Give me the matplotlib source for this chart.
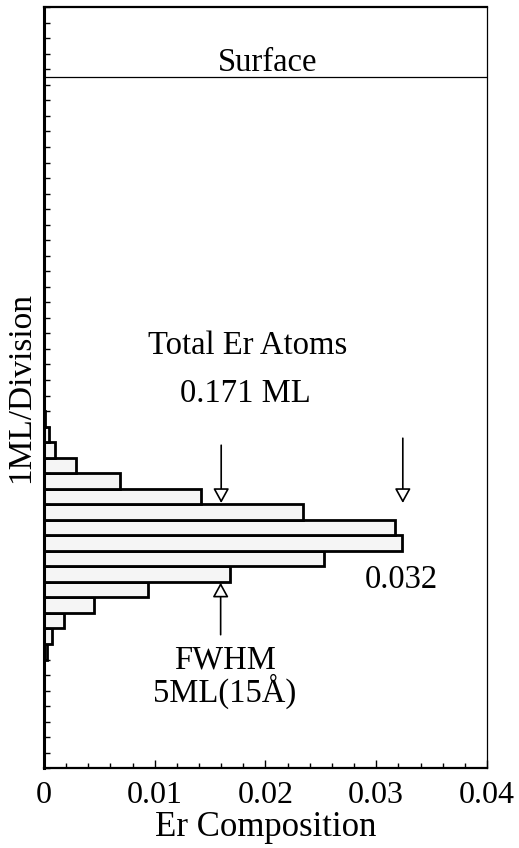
import numpy as np
import matplotlib.pyplot as plt
from matplotlib.ticker import MultipleLocator

# Er composition per monolayer (bottom edge of each 1 ML layer)
layers = [7, 8, 9, 10, 11, 12, 13, 14, 15, 16, 17, 18, 19, 20, 21, 22]
composition = [0.0003, 0.0007, 0.0018, 0.0045, 0.0094, 0.0168, 0.0253, 0.0323,
               0.0317, 0.0234, 0.01415, 0.0069, 0.0029, 0.0010, 0.00045, 0.0001]
surface_layer = 44.5
x_ticks = [0, 0.01, 0.02, 0.03, 0.04]
x_tick_labels = ['0', '0.01', '0.02', '0.03', '0.04']
total_atoms = '0.171 ML'
peak_value = '0.032'
half_max = 0.016

plt.rcParams['font.family'] = ['Liberation Serif', 'DejaVu Serif']
fs = 23.5

fig = plt.figure(figsize=(5.19, 8.48), dpi=100)
ax = fig.add_axes([0.0848, 0.094, 0.8535, 0.8975])

ax.barh(layers, composition, height=1, align='edge', color='#f5f5f5',
        edgecolor='black', linewidth=2.0)

ax.axhline(surface_layer, color='black', linewidth=0.9)
ax.text(0.0202, 44.92, 'Surface', ha='center', va='baseline', fontsize=fs)

ax.text(0.0184, 26.7, 'Total Er Atoms', ha='center', va='baseline', fontsize=fs)
ax.text(0.0182, 23.6, total_atoms, ha='center', va='baseline', fontsize=fs)
ax.text(0.0323, 11.6, peak_value, ha='center', va='baseline', fontsize=fs)
ax.text(0.0163, 6.43, 'FWHM', ha='center', va='baseline', fontsize=fs)
ax.text(0.0163, 4.28, '5ML(15Å)', ha='center', va='baseline', fontsize=fs)

arrow = dict(arrowstyle='-|>,head_length=0.4,head_width=0.22', mutation_scale=22,
             lw=1.2, fc='white', ec='black', shrinkA=0, shrinkB=0)
ax.annotate('', xy=(half_max, 17.08), xytext=(half_max, 20.8), arrowprops=arrow)
ax.annotate('', xy=(0.0324, 17.08), xytext=(0.0324, 21.25), arrowprops=arrow)
ax.annotate('', xy=(half_max - 0.00005, 11.95), xytext=(half_max - 0.00005, 8.6),
            arrowprops=arrow)

ax.set_xlim(0, 0.04)
ax.set_ylim(0, 49)
ax.set_xticks(x_ticks)
ax.set_xticklabels(x_tick_labels, fontsize=23)
ax.xaxis.set_minor_locator(MultipleLocator(0.002))
ax.tick_params(axis='x', which='major', direction='in', length=6, width=1, pad=9)
ax.tick_params(axis='x', which='minor', direction='in', length=3.5, width=1)
ax.yaxis.set_major_locator(MultipleLocator(1))
ax.tick_params(axis='y', which='major', direction='in', length=4.5, width=1,
               labelleft=False)

ax.spines['left'].set_linewidth(2.2)
ax.spines['bottom'].set_linewidth(1.6)
ax.spines['top'].set_linewidth(1.6)
ax.spines['right'].set_linewidth(0.9)

ax.set_xlabel('Er Composition', fontsize=25, labelpad=1)
ax.set_ylabel('1ML/Division', fontsize=24, labelpad=6)

fig.savefig('out.png', dpi=100)
